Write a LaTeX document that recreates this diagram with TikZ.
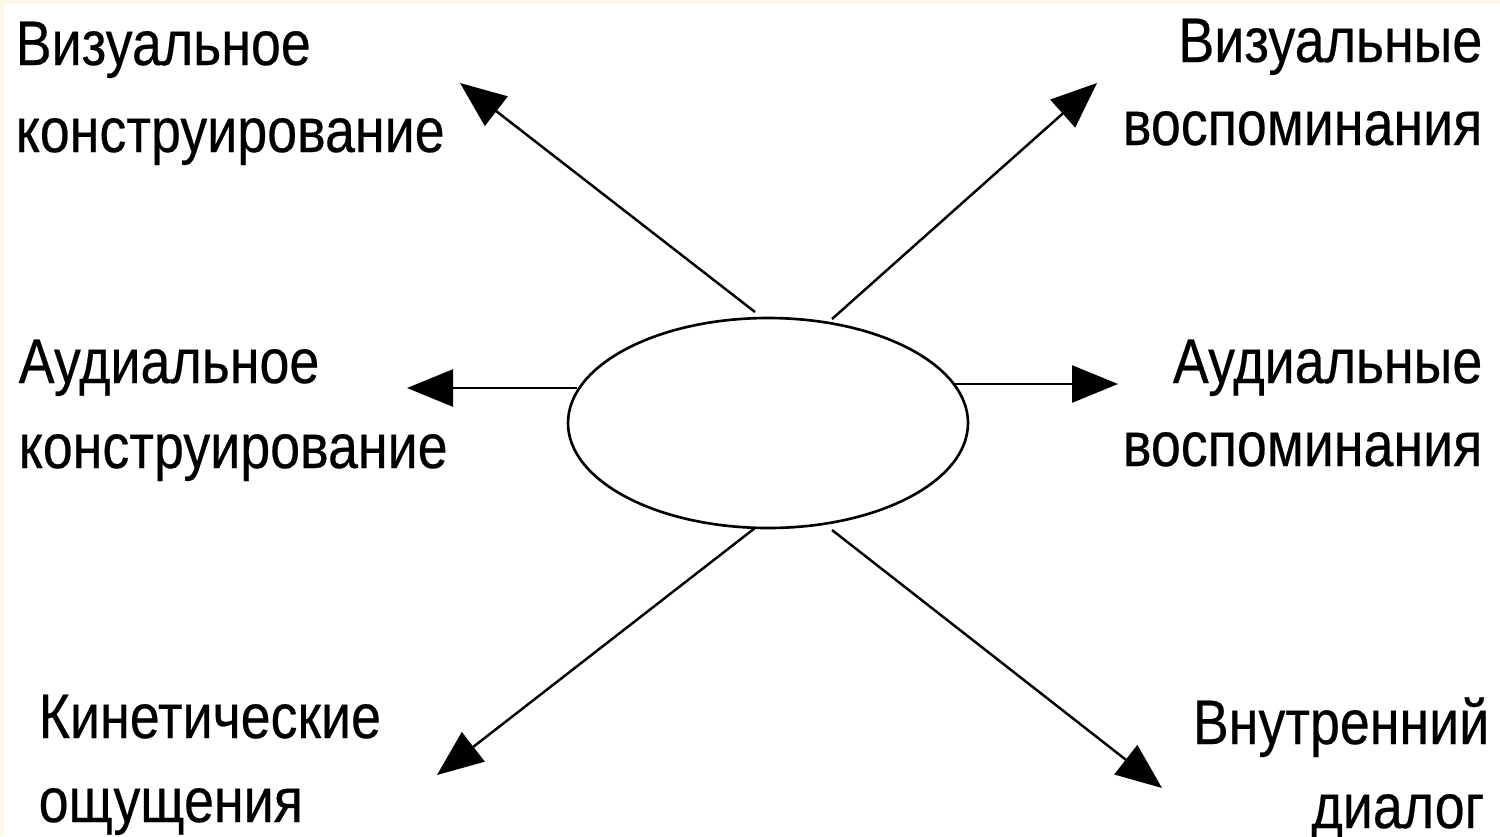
\documentclass[tikz,border=0pt]{standalone}
\usepackage{fontspec}
\setmainfont[FakeStretch=0.855,FakeBold=0.35]{Liberation Sans}
\usetikzlibrary{arrows.meta,shapes.geometric}
\definecolor{cream}{HTML}{FBF8EA}
\begin{document}
\begin{tikzpicture}[x=0.1mm,y=-0.1mm,
  lbl/.style={inner sep=0pt,font=\fontsize{17.9}{24}\selectfont},
  arr/.style={line width=0.7pt,-{Triangle[length=4.6mm,width=3.7mm]}},
  oval/.style={draw,ellipse,line width=0.75pt,minimum width=4cm,minimum height=2.1cm,inner sep=0pt}]
\fill[cream] (0,0) rectangle (1500,836);
\fill[white] (4,4) rectangle (1500,836);
\useasboundingbox (0,0) rectangle (1500,836);
\node[oval] (e) at (768,423) {};
% start points
\coordinate (snw) at (755,312);
\coordinate (sne) at (832,319);
\coordinate (sw) at (577,388);
\coordinate (se) at (955,384);
\coordinate (ssw) at (755,528);
\coordinate (sse) at (832,530);
% tips
\coordinate (tnw) at (460,83);
\coordinate (tne) at (1097,83);
\coordinate (tw) at (407,388);
\coordinate (te) at (1118,384);
\coordinate (tsw) at (437,775);
\coordinate (tse) at (1162,788);
\draw[arr] (snw) -- (tnw);
\draw[arr] (sne) -- (tne);
\draw[arr] (sw) -- (tw);
\draw[arr] (se) -- (te);
\draw[arr] (ssw) -- (tsw);
\draw[arr] (sse) -- (tse);
% labels
\node[lbl,anchor=base west] (vk1) at (15,65) {Визуальное};
\node[lbl,anchor=base west] (vk2) at (15,152) {конструирование};
\node[lbl,anchor=base east] (vv1) at (1483,62) {Визуальные};
\node[lbl,anchor=base east] (vv2) at (1483,145) {воспоминания};
\node[lbl,anchor=base west] (ak1) at (18,383) {Аудиальное};
\node[lbl,anchor=base west] (ak2) at (18,468) {конструирование};
\node[lbl,anchor=base east] (av1) at (1483,383) {Аудиальные};
\node[lbl,anchor=base east] (av2) at (1483,466) {воспоминания};
\node[lbl,anchor=base west] (ko1) at (38,738) {Кинетические};
\node[lbl,anchor=base west] (ko2) at (38,822) {ощущения};
\node[lbl,anchor=base east] (vd1) at (1490,744) {Внутренний};
\node[lbl,anchor=base east] (vd2) at (1485,828) {диалог};
\end{tikzpicture}
\end{document}
